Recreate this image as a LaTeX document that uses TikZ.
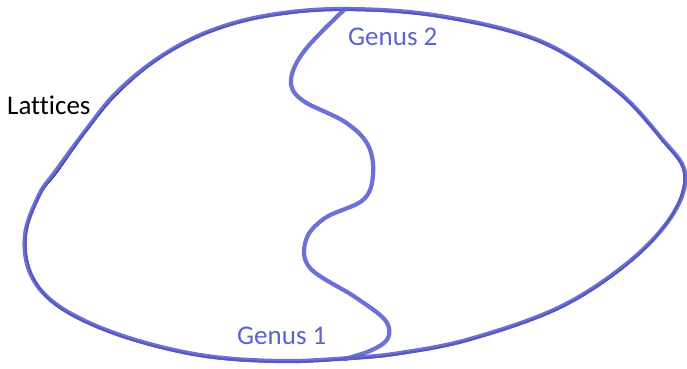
\documentclass[tikz,border=0pt]{standalone}
\usepackage{fontspec}
\setmainfont[Ligatures={NoCommon}]{Carlito}
\definecolor{penblue}{RGB}{92,98,210}
\tikzset{
  outline/.style={line width=1.8pt, black, line cap=round, line join=round},
  ink/.style={line width=4.2pt, penblue, opacity=0.9, line cap=round, line join=round},
  lbl/.style={font=\fontsize{27}{32}\selectfont, inner sep=0pt}
}
\begin{document}
\begin{tikzpicture}[x=1pt,y=-1pt]
\useasboundingbox (0,0) rectangle (687,368);
\draw[outline] plot[smooth cycle, tension=0.6] coordinates {(345,10) (440,17) (540,42) (615,90) (662,140) (684,173) (672,215) (630,262) (560,308) (470,340) (400,354) (350,359) (280,362) (200,356) (120,336) (60,308) (32,275) (26,235) (40,195) (57,172) (87,130) (118,93) (160,58) (210,32) (270,16)};
\draw[ink] plot[smooth cycle, tension=0.6] coordinates {(345,9) (440,16) (540,41) (615,89) (662,139) (685,173) (673,214) (630,261) (560,307) (470,339) (400,353) (350,358) (280,361) (200,355) (120,335) (60,307) (31,275) (25,235) (39,195) (55,172) (86,130) (117,92) (160,57) (210,31) (270,15)};
\coordinate (top) at (345,9);
\coordinate (bot) at (345,359);
\draw[ink] plot[smooth, tension=0.6] coordinates {(top) (305,50) (291,80) (302,100) (345,122) (368,145) (373,175) (363,200) (325,218) (306,240) (310,268) (355,297) (385,320) (388,338) (372,350) (bot)};
\node[lbl, anchor=west, black] (lat) at (7,105) {Lattices};
\node[lbl, anchor=west, penblue] (g2) at (348,37) {Genus 2};
\node[lbl, anchor=west, penblue] (g1) at (237,336) {Genus 1};
\end{tikzpicture}
\end{document}
